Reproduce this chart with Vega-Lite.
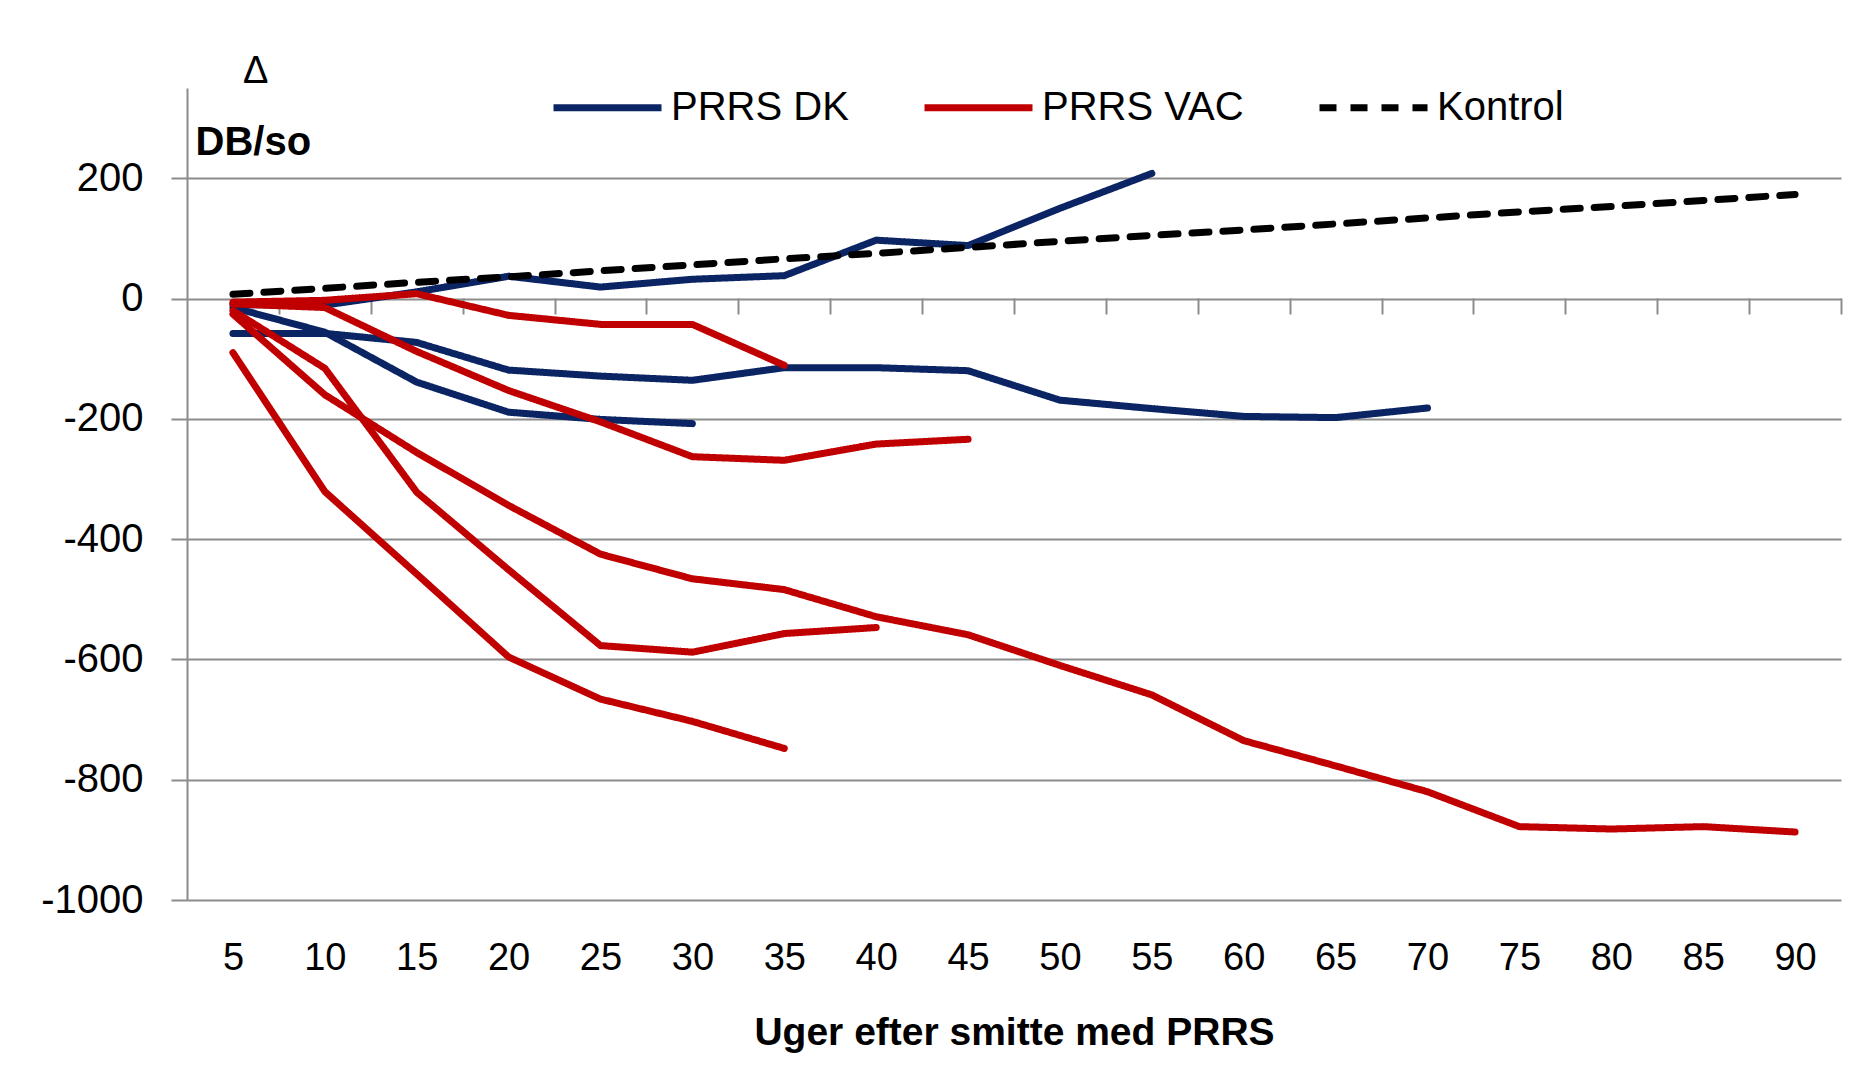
{
  "$schema": "https://vega.github.io/schema/vega-lite/v6.json",
  "width": 1654,
  "height": 812,
  "autosize": {"type": "none"},
  "padding": {"left": 187, "top": 88, "right": 12, "bottom": 166},
  "background": "white",
  "title": {"text": "Δ", "anchor": "start", "frame": "group", "orient": "top", "dx": 56, "dy": 76, "offset": 5, "baseline": "alphabetic", "fontSize": 38, "fontWeight": "normal", "font": "Liberation Sans", "color": "black"},
  "data": {"values": [
    {"series": "DK1", "group": "PRRS DK", "week": 5, "value": -10},
    {"series": "DK1", "group": "PRRS DK", "week": 10, "value": -11},
    {"series": "DK1", "group": "PRRS DK", "week": 15, "value": 11},
    {"series": "DK1", "group": "PRRS DK", "week": 20, "value": 37},
    {"series": "DK1", "group": "PRRS DK", "week": 25, "value": 19},
    {"series": "DK1", "group": "PRRS DK", "week": 30, "value": 32},
    {"series": "DK1", "group": "PRRS DK", "week": 35, "value": 38},
    {"series": "DK1", "group": "PRRS DK", "week": 40, "value": 97},
    {"series": "DK1", "group": "PRRS DK", "week": 45, "value": 88},
    {"series": "DK1", "group": "PRRS DK", "week": 50, "value": 150},
    {"series": "DK1", "group": "PRRS DK", "week": 55, "value": 208},
    {"series": "DK2", "group": "PRRS DK", "week": 5, "value": -15},
    {"series": "DK2", "group": "PRRS DK", "week": 10, "value": -56},
    {"series": "DK2", "group": "PRRS DK", "week": 15, "value": -139},
    {"series": "DK2", "group": "PRRS DK", "week": 20, "value": -189},
    {"series": "DK2", "group": "PRRS DK", "week": 25, "value": -201},
    {"series": "DK2", "group": "PRRS DK", "week": 30, "value": -208},
    {"series": "DK3", "group": "PRRS DK", "week": 5, "value": -58},
    {"series": "DK3", "group": "PRRS DK", "week": 10, "value": -58},
    {"series": "DK3", "group": "PRRS DK", "week": 15, "value": -73},
    {"series": "DK3", "group": "PRRS DK", "week": 20, "value": -119},
    {"series": "DK3", "group": "PRRS DK", "week": 25, "value": -129},
    {"series": "DK3", "group": "PRRS DK", "week": 30, "value": -136},
    {"series": "DK3", "group": "PRRS DK", "week": 35, "value": -115},
    {"series": "DK3", "group": "PRRS DK", "week": 40, "value": -115},
    {"series": "DK3", "group": "PRRS DK", "week": 45, "value": -120},
    {"series": "DK3", "group": "PRRS DK", "week": 50, "value": -169},
    {"series": "DK3", "group": "PRRS DK", "week": 55, "value": -183},
    {"series": "DK3", "group": "PRRS DK", "week": 60, "value": -196},
    {"series": "DK3", "group": "PRRS DK", "week": 65, "value": -198},
    {"series": "DK3", "group": "PRRS DK", "week": 70, "value": -182},
    {"series": "VAC1", "group": "PRRS VAC", "week": 5, "value": -6},
    {"series": "VAC1", "group": "PRRS VAC", "week": 10, "value": -3},
    {"series": "VAC1", "group": "PRRS VAC", "week": 15, "value": 8},
    {"series": "VAC1", "group": "PRRS VAC", "week": 20, "value": -28},
    {"series": "VAC1", "group": "PRRS VAC", "week": 25, "value": -43},
    {"series": "VAC1", "group": "PRRS VAC", "week": 30, "value": -43},
    {"series": "VAC1", "group": "PRRS VAC", "week": 35, "value": -111},
    {"series": "VAC2", "group": "PRRS VAC", "week": 5, "value": -9},
    {"series": "VAC2", "group": "PRRS VAC", "week": 10, "value": -15},
    {"series": "VAC2", "group": "PRRS VAC", "week": 15, "value": -88},
    {"series": "VAC2", "group": "PRRS VAC", "week": 20, "value": -153},
    {"series": "VAC2", "group": "PRRS VAC", "week": 25, "value": -205},
    {"series": "VAC2", "group": "PRRS VAC", "week": 30, "value": -263},
    {"series": "VAC2", "group": "PRRS VAC", "week": 35, "value": -269},
    {"series": "VAC2", "group": "PRRS VAC", "week": 40, "value": -242},
    {"series": "VAC2", "group": "PRRS VAC", "week": 45, "value": -234},
    {"series": "VAC3", "group": "PRRS VAC", "week": 5, "value": -20},
    {"series": "VAC3", "group": "PRRS VAC", "week": 10, "value": -116},
    {"series": "VAC3", "group": "PRRS VAC", "week": 15, "value": -322},
    {"series": "VAC3", "group": "PRRS VAC", "week": 20, "value": -451},
    {"series": "VAC3", "group": "PRRS VAC", "week": 25, "value": -577},
    {"series": "VAC3", "group": "PRRS VAC", "week": 30, "value": -588},
    {"series": "VAC3", "group": "PRRS VAC", "week": 35, "value": -557},
    {"series": "VAC3", "group": "PRRS VAC", "week": 40, "value": -547},
    {"series": "VAC4", "group": "PRRS VAC", "week": 5, "value": -26},
    {"series": "VAC4", "group": "PRRS VAC", "week": 10, "value": -160},
    {"series": "VAC4", "group": "PRRS VAC", "week": 15, "value": -256},
    {"series": "VAC4", "group": "PRRS VAC", "week": 20, "value": -344},
    {"series": "VAC4", "group": "PRRS VAC", "week": 25, "value": -425},
    {"series": "VAC4", "group": "PRRS VAC", "week": 30, "value": -466},
    {"series": "VAC4", "group": "PRRS VAC", "week": 35, "value": -484},
    {"series": "VAC4", "group": "PRRS VAC", "week": 40, "value": -529},
    {"series": "VAC4", "group": "PRRS VAC", "week": 45, "value": -559},
    {"series": "VAC4", "group": "PRRS VAC", "week": 50, "value": -610},
    {"series": "VAC4", "group": "PRRS VAC", "week": 55, "value": -659},
    {"series": "VAC4", "group": "PRRS VAC", "week": 60, "value": -735},
    {"series": "VAC4", "group": "PRRS VAC", "week": 65, "value": -777},
    {"series": "VAC4", "group": "PRRS VAC", "week": 70, "value": -820},
    {"series": "VAC4", "group": "PRRS VAC", "week": 75, "value": -878},
    {"series": "VAC4", "group": "PRRS VAC", "week": 80, "value": -882},
    {"series": "VAC4", "group": "PRRS VAC", "week": 85, "value": -878},
    {"series": "VAC4", "group": "PRRS VAC", "week": 90, "value": -887},
    {"series": "VAC5", "group": "PRRS VAC", "week": 5, "value": -90},
    {"series": "VAC5", "group": "PRRS VAC", "week": 10, "value": -321},
    {"series": "VAC5", "group": "PRRS VAC", "week": 15, "value": -458},
    {"series": "VAC5", "group": "PRRS VAC", "week": 20, "value": -596},
    {"series": "VAC5", "group": "PRRS VAC", "week": 25, "value": -666},
    {"series": "VAC5", "group": "PRRS VAC", "week": 30, "value": -703},
    {"series": "VAC5", "group": "PRRS VAC", "week": 35, "value": -748},
    {"series": "K", "group": "Kontrol", "week": 5, "value": 7},
    {"series": "K", "group": "Kontrol", "week": 10, "value": 17},
    {"series": "K", "group": "Kontrol", "week": 15, "value": 27},
    {"series": "K", "group": "Kontrol", "week": 20, "value": 36},
    {"series": "K", "group": "Kontrol", "week": 25, "value": 46},
    {"series": "K", "group": "Kontrol", "week": 30, "value": 56},
    {"series": "K", "group": "Kontrol", "week": 35, "value": 66},
    {"series": "K", "group": "Kontrol", "week": 40, "value": 75},
    {"series": "K", "group": "Kontrol", "week": 45, "value": 85},
    {"series": "K", "group": "Kontrol", "week": 50, "value": 95},
    {"series": "K", "group": "Kontrol", "week": 55, "value": 105},
    {"series": "K", "group": "Kontrol", "week": 60, "value": 114},
    {"series": "K", "group": "Kontrol", "week": 65, "value": 124},
    {"series": "K", "group": "Kontrol", "week": 70, "value": 134},
    {"series": "K", "group": "Kontrol", "week": 75, "value": 144},
    {"series": "K", "group": "Kontrol", "week": 80, "value": 153},
    {"series": "K", "group": "Kontrol", "week": 85, "value": 163},
    {"series": "K", "group": "Kontrol", "week": 90, "value": 173}
  ]},
  "layer": [
    {
      "transform": [{"filter": "datum.group === 'PRRS DK'"}],
      "mark": {"type": "line", "interpolate": "linear", "strokeWidth": 7, "strokeCap": "round", "strokeJoin": "round"},
      "encoding": {
        "x": {"field": "week", "type": "quantitative", "scale": {"domain": [2.5, 92.5], "nice": false, "zero": false},
          "axis": {"orient": "bottom", "values": [5, 10, 15, 20, 25, 30, 35, 40, 45, 50, 55, 60, 65, 70, 75, 80, 85, 90], "ticks": false, "tickSize": 0, "domain": false, "grid": false, "labelFontSize": 38, "labelPadding": 39, "labelFlush": false, "labelOverlap": false, "title": "Uger efter smitte med PRRS", "titleFontSize": 39, "titleFontWeight": "bold", "titlePadding": 36}},
        "y": {"field": "value", "type": "quantitative", "scale": {"domain": [-1000, 350], "nice": false, "zero": false},
          "axis": {"values": [-1000, -800, -600, -400, -200, 0, 200], "labelExpr": "'' + datum.value", "grid": true, "gridColor": "#8c8c8c", "gridWidth": 2, "domain": true, "domainColor": "#8c8c8c", "domainWidth": 2, "ticks": true, "tickSize": 16, "tickColor": "#8c8c8c", "tickWidth": 2, "labelFontSize": 40, "labelPadding": 28, "title": "DB/so", "titleAngle": 0, "titleX": 8, "titleY": 66, "titleAlign": "left", "titleBaseline": "alphabetic", "titleFontSize": 40, "titleFontWeight": "bold"}},
        "color": {"field": "group", "type": "nominal", "scale": {"domain": ["PRRS DK", "PRRS VAC", "Kontrol"], "range": ["#0B2463", "#C00000", "#000000"]},
          "legend": {"orient": "none", "legendX": 363, "legendY": -38, "direction": "horizontal", "title": null}},
        "strokeDash": {"field": "group", "type": "nominal", "scale": {"domain": ["PRRS DK", "PRRS VAC", "Kontrol"], "range": [[1, 0], [1, 0], [17, 14]]},
          "legend": {"orient": "none", "legendX": 363, "legendY": -38, "direction": "horizontal", "title": null}},
        "detail": {"field": "series", "type": "nominal"}
      }
    },
    {
      "transform": [{"filter": "datum.group === 'PRRS VAC'"}],
      "mark": {"type": "line", "interpolate": "linear", "strokeWidth": 7, "strokeCap": "round", "strokeJoin": "round"},
      "encoding": {
        "x": {"field": "week", "type": "quantitative", "axis": null},
        "y": {"field": "value", "type": "quantitative"},
        "color": {"field": "group", "type": "nominal"},
        "strokeDash": {"field": "group", "type": "nominal"},
        "detail": {"field": "series", "type": "nominal"}
      }
    },
    {
      "transform": [{"filter": "datum.group === 'Kontrol'"}],
      "mark": {"type": "line", "interpolate": "linear", "strokeWidth": 7, "strokeCap": "round", "strokeJoin": "round"},
      "encoding": {
        "x": {"field": "week", "type": "quantitative",
          "axis": {"orient": "bottom", "offset": -602, "values": [7.5, 12.5, 17.5, 22.5, 27.5, 32.5, 37.5, 42.5, 47.5, 52.5, 57.5, 62.5, 67.5, 72.5, 77.5, 82.5, 87.5, 92.5], "labels": false, "ticks": true, "tickSize": 16, "tickColor": "#8c8c8c", "tickWidth": 2, "domain": false, "grid": false, "title": null}},
        "y": {"field": "value", "type": "quantitative"},
        "color": {"field": "group", "type": "nominal"},
        "strokeDash": {"field": "group", "type": "nominal"},
        "detail": {"field": "series", "type": "nominal"}
      }
    }
  ],
  "resolve": {"axis": {"x": "independent"}},
  "config": {
    "font": "Liberation Sans",
    "view": {"stroke": null},
    "axis": {"labelColor": "#000000", "titleColor": "#000000", "labelFont": "Liberation Sans", "titleFont": "Liberation Sans"},
    "legend": {"symbolType": "stroke", "symbolSize": 11664, "symbolStrokeWidth": 7, "labelFontSize": 40, "labelFont": "Liberation Sans", "labelColor": "#000000", "labelOffset": 6, "columnPadding": 61, "padding": 0, "labelLimit": 0}
  }
}
